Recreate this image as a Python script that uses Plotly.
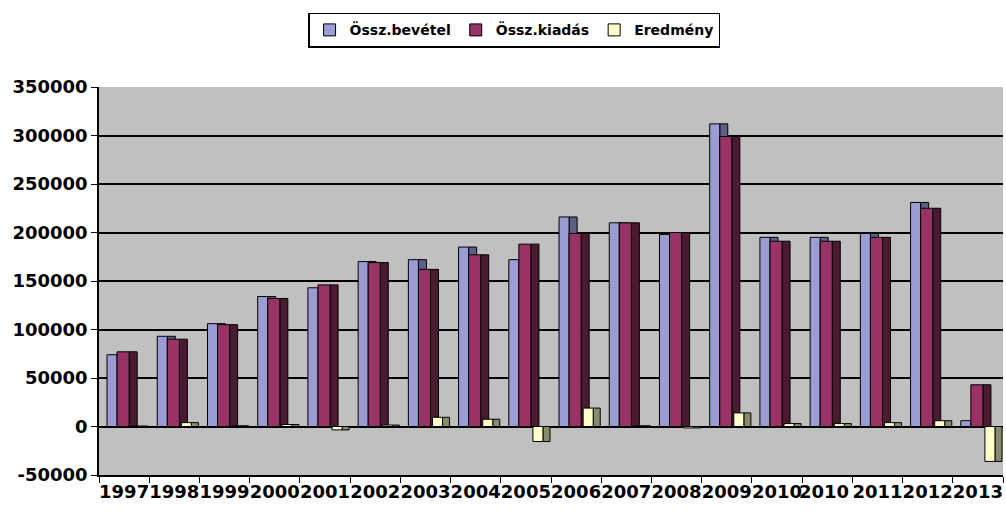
import plotly.graph_objects as go

years = ["1997", "1998", "1999", "2000", "2001", "2002", "2003", "2004", "2005",
         "2006", "2007", "2008", "2009", "2010", "2010 ", "2011", "2012", "2013"]
bevetel = [74000, 93000, 106000, 134000, 143000, 170000, 172000, 185000, 172000,
           216000, 210000, 198000, 312000, 195000, 195000, 199000, 231000, 6000]
kiadas = [77000, 90000, 105000, 132000, 146000, 169000, 162000, 177000, 188000,
          199000, 210000, 200000, 299000, 191000, 191000, 195000, 225000, 43000]
eredmeny = [500, 4000, 800, 2000, -3500, 1500, 9500, 7500, -15500,
            19000, 800, -1500, 14000, 3000, 3000, 4000, 6000, -36000]
series_names = ["Össz.bevétel", "Össz.kiadás", "Eredmény"]
tick_vals = [-50000, 0, 50000, 100000, 150000, 200000, 250000, 300000, 350000]
tick_text = ["-50000", "0", "50000", "100000", "150000", "200000", "250000", "300000", "350000"]

front_colors = ["#9c9cd4", "#993366", "#ffffcc"]
side_colors = ["#5c6088", "#4a1a30", "#8a8a70"]
front_off = [-0.34, -0.14, 0.14]
front_w = [0.2, 0.24, 0.2]
side_off = [-0.14, 0.10, 0.34]
side_w = [0.16, 0.16, 0.14]

fig = go.Figure()
for i, vals in enumerate([bevetel, kiadas, eredmeny]):
    fig.add_trace(go.Bar(x=years, y=vals, name=series_names[i] + "_side",
                         showlegend=False, offset=side_off[i], width=side_w[i],
                         marker=dict(color=side_colors[i], line=dict(color="black", width=1)),
                         hoverinfo="skip"))
    fig.add_trace(go.Bar(x=years, y=vals, name=series_names[i],
                         offset=front_off[i], width=front_w[i],
                         marker=dict(color=front_colors[i], line=dict(color="black", width=1))))

fig.update_layout(
    barmode="overlay",
    width=1006, height=512,
    margin=dict(l=99, r=3, t=87, b=37),
    paper_bgcolor="white",
    plot_bgcolor="#c0c0c0",
    font=dict(family="DejaVu Sans", size=18, color="black"),
    legend=dict(orientation="h", xref="container", yref="container",
                x=0.511, xanchor="center", y=0.975, yanchor="top",
                bgcolor="white", bordercolor="black", borderwidth=1.5,
                font=dict(family="DejaVu Sans", size=14, color="black", weight="bold"),
                traceorder="normal", itemwidth=30),
    xaxis=dict(type="category", tickson="boundaries", ticks="outside", ticklen=6,
               tickcolor="black", showline=True, linecolor="black", linewidth=1.5,
               showgrid=False, tickangle=0, automargin=False, range=[-0.5, 17.5],
               tickfont=dict(family="DejaVu Sans", size=18, weight="bold")),
    yaxis=dict(range=[-50000, 350000], tickvals=tick_vals, ticktext=tick_text,
               ticks="outside", ticklen=6, automargin=False,
               tickcolor="black", showline=True, linecolor="black", linewidth=1.5,
               showgrid=True, gridcolor="black", gridwidth=1.5,
               zeroline=True, zerolinecolor="black", zerolinewidth=1.5,
               tickfont=dict(family="DejaVu Sans", size=18, weight="bold")),
)

fig.write_html("out.html", config={"displayModeBar": False},
               post_script="document.body.style.margin='0';document.body.style.overflow='hidden';")
